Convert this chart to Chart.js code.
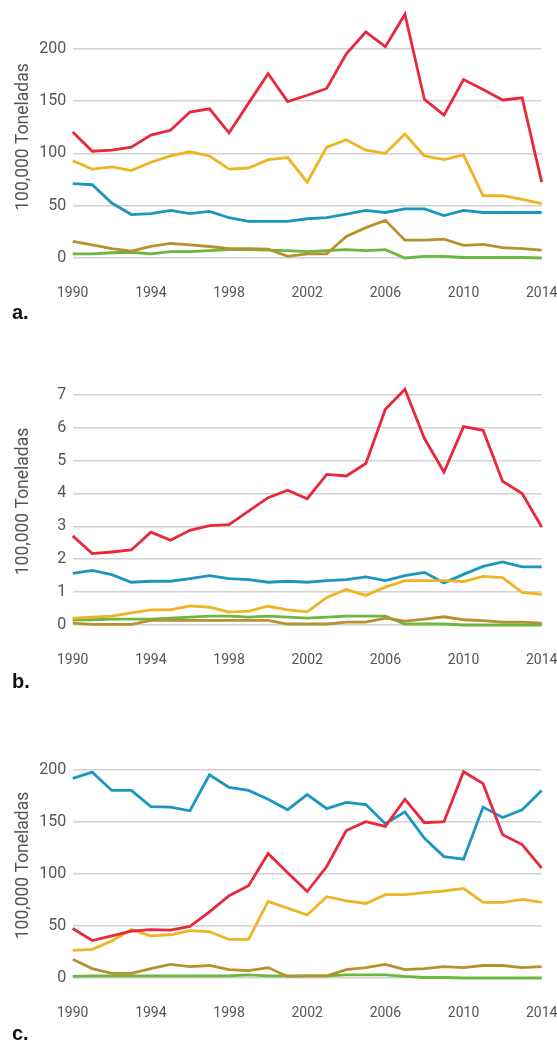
<!DOCTYPE html>
<html lang="pt-BR">

<head>
  <meta charset="UTF-8" />
  <title>Toneladas 1990-2014</title>
  <script src="https://cdn.jsdelivr.net/npm/chart.js"></script>
  <style>
    html, body { margin: 0; padding: 0; background: #fff; }
    body { position: relative; width: 557px; height: 1041px; overflow: hidden; }
    canvas { position: absolute; left: 0; }
    .letra {
      position: absolute;
      left: 12px;
      font: bold 20px/20px 'Liberation Sans', Arial, sans-serif;
      color: #111;
    }
  </style>
</head>

<body>

  <canvas id="chartA"></canvas>
  <div class="letra" style="top:302px">a.</div>

  <canvas id="chartB"></canvas>
  <div class="letra" style="top:671px">b.</div>

  <canvas id="chartC"></canvas>
  <div class="letra" style="top:1023px">c.</div>

  <script>
    // Anos e rótulos do eixo x
    const anos = ['1990', '1991', '1992', '1993', '1994', '1995', '1996', '1997', '1998', '1999', '2000', '2001',
      '2002', '2003', '2004', '2005', '2006', '2007', '2008', '2009', '2010', '2011', '2012', '2013', '2014'];
    const anosRotulo = ['1990', '1994', '1998', '2002', '2006', '2010', '2014'];

    // Marcas do eixo y de cada painel
    const ticksA = [0, 50, 100, 150, 200];
    const ticksB = [0, 1, 2, 3, 4, 5, 6, 7];
    const ticksC = [0, 50, 100, 150, 200];

    // Painel a
    const aVermelho = [120.5, 102, 103, 106, 117.5, 122, 139.5, 142.5, 119.5, 148, 176, 149.5, 155.5, 162, 195, 216, 202, 233, 151.5, 136.5, 170.5, 161, 151, 153, 72.5];
    const aAmarelo = [93, 85, 87, 83.5, 91.5, 97.5, 101.5, 97.5, 85, 86, 94, 96, 72.5, 106, 113, 103, 100, 118.5, 97.5, 94, 98.5, 59.5, 59.5, 56, 52];
    const aAzul = [71, 70, 52.5, 41.5, 42.5, 45.5, 42.5, 44.5, 38.5, 35, 35, 35, 37.5, 38.5, 42, 45.5, 43.5, 47, 47, 40.5, 45.5, 43.5, 43.5, 43.5, 43.5];
    const aMarrom = [16, 12.5, 9, 6.5, 11, 14, 12.5, 11, 9, 9, 8.5, 1.5, 4, 4, 20.5, 29, 36, 17, 17, 18, 12, 13, 10, 9, 7.5];
    const aVerde = [4, 4, 5, 5.5, 4, 6, 6, 7, 8, 8, 7.5, 7, 6, 7, 8, 7, 8, 0, 1.5, 1.5, 0.5, 0.5, 0.5, 0.5, 0];

    // Painel b
    const bVermelho = [2.71, 2.17, 2.22, 2.28, 2.82, 2.58, 2.88, 3.02, 3.05, 3.46, 3.87, 4.1, 3.84, 4.58, 4.53, 4.91, 6.56, 7.17, 5.67, 4.65, 6.03, 5.92, 4.37, 4.0, 2.98];
    const bAmarelo = [0.21, 0.24, 0.27, 0.37, 0.46, 0.46, 0.58, 0.54, 0.39, 0.42, 0.57, 0.46, 0.4, 0.84, 1.08, 0.9, 1.15, 1.35, 1.35, 1.35, 1.32, 1.48, 1.44, 0.99, 0.93];
    const bAzul = [1.57, 1.66, 1.53, 1.3, 1.33, 1.33, 1.41, 1.5, 1.41, 1.38, 1.3, 1.33, 1.3, 1.35, 1.38, 1.46, 1.35, 1.5, 1.6, 1.28, 1.54, 1.78, 1.92, 1.77, 1.77];
    const bMarrom = [0.06, 0.02, 0.02, 0.02, 0.14, 0.14, 0.14, 0.14, 0.14, 0.14, 0.14, 0.03, 0.03, 0.03, 0.09, 0.09, 0.21, 0.12, 0.18, 0.25, 0.16, 0.13, 0.09, 0.09, 0.06];
    const bVerde = [0.16, 0.16, 0.18, 0.18, 0.18, 0.21, 0.24, 0.27, 0.27, 0.24, 0.27, 0.24, 0.21, 0.24, 0.27, 0.27, 0.27, 0.03, 0.03, 0.03, 0, 0, 0, 0, 0];

    // Painel c
    const cVermelho = [47.5, 36, 40.5, 45, 46.5, 46, 49.5, 63.5, 79, 88.5, 119.5, 101, 83, 107, 141.5, 150, 145.5, 171.5, 149, 150, 198, 186.5, 137.5, 128, 105.5];
    const cAmarelo = [26.5, 27.5, 35.5, 46.5, 40.5, 41.5, 45.5, 44.5, 37, 37, 73.5, 67, 60.5, 78, 74, 71.5, 80, 80, 82, 83.5, 86, 72.5, 72.5, 75.5, 72.5];
    const cAzul = [191.5, 197.5, 180, 180, 164.5, 164, 160.5, 195, 183, 180, 171.5, 161.5, 176, 162.5, 168.5, 166.5, 148, 159.5, 134, 116.5, 114, 164, 154, 161.5, 180];
    const cMarrom = [18, 9, 4.5, 4.5, 9, 13, 11, 12, 8, 7, 10, 1.5, 2, 2, 8, 10, 13, 8, 9, 11, 10, 12, 12, 10, 11];
    const cVerde = [1.5, 2, 2, 2, 2, 2, 2, 2, 2, 3, 2, 2, 2, 2, 3, 3, 3, 1.5, 0.5, 0.5, 0, 0, 0, 0, 0];

    const cores = ['#E8283C', '#F0B323', '#1A96C0', '#B8912F', '#6CB73F'];
    const fonte = "Roboto, 'Liberation Sans', sans-serif";

    // monta um painel: zero = pixel da linha 0 na página, k = pixels por unidade
    function painel(id, zero, k, folgaAcima, ticksY, series) {
      const canvas = document.getElementById(id);
      const eixoX = 34, abaixo = 14, folgaTopo = 4;
      const topoArea = zero - k * ticksY[ticksY.length - 1] - folgaAcima;
      const altura = Math.ceil(zero + abaixo + eixoX - topoArea + folgaTopo);
      const topo = zero + abaixo + eixoX - altura;
      canvas.width = 557;
      canvas.height = altura;
      canvas.style.top = topo + 'px';

      new Chart(canvas, {
        type: 'line',
        data: {
          labels: anos,
          datasets: series.map((d, i) => ({
            data: d,
            borderColor: cores[i],
            backgroundColor: cores[i],
            borderWidth: 2.8,
            pointRadius: 0,
            tension: 0,
            fill: false
          }))
        },
        options: {
          responsive: false,
          animation: false,
          layout: { padding: { top: folgaTopo, left: 0, right: 0, bottom: 0 } },
          plugins: {
            legend: { display: false },
            tooltip: { enabled: false }
          },
          scales: {
            x: {
              grid: { display: false, drawTicks: false },
              border: { display: false },
              ticks: {
                autoSkip: false,
                maxRotation: 0,
                padding: 13,
                color: '#555',
                font: { family: fonte, size: 14 },
                callback: function (v) {
                  const r = this.getLabelForValue(v);
                  return anosRotulo.includes(r) ? r : '';
                }
              },
              afterFit: (s) => { s.height = eixoX; s.paddingLeft = 0; s.paddingRight = 15.3; }
            },
            y: {
              min: -abaixo / k,
              max: (zero - topo - folgaTopo) / k,
              grid: { color: '#d2d2d2', lineWidth: 1.5, drawTicks: false },
              border: { display: false },
              ticks: {
                padding: 6.5,
                color: '#555',
                font: { family: fonte, size: 16 }
              },
              afterBuildTicks: (s) => { s.ticks = ticksY.map(v => ({ value: v })); },
              afterFit: (s) => { s.width = 72.7; s.paddingTop = 0; s.paddingBottom = 0; },
              title: {
                display: true,
                text: '100,000 Toneladas',
                color: '#555',
                font: { family: fonte, size: 17.5 },
                padding: { top: 13, bottom: 0 }
              }
            }
          }
        }
      });
    }

    painel('chartA', 258.3, 1.0465, 46, ticksA, [aVermelho, aAmarelo, aAzul, aMarrom, aVerde]);
    painel('chartB', 624.5, 32.89, 30, ticksB, [bVermelho, bAmarelo, bAzul, bMarrom, bVerde]);
    painel('chartC', 977.7, 1.042, 30, ticksC, [cVermelho, cAmarelo, cAzul, cMarrom, cVerde]);
  </script>

</body>

</html>
